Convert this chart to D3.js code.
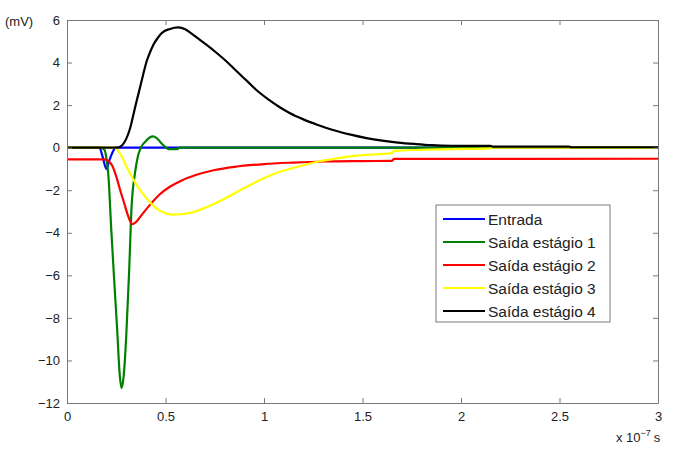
<!DOCTYPE html>
<html>
<head>
<meta charset="utf-8">
<script src="https://cdn.jsdelivr.net/npm/d3@7"></script>
<style>
  html, body { margin: 0; padding: 0; background: #fff; }
  svg { display: block; font-family: "Liberation Sans", Arial, Helvetica, sans-serif; }
</style>
</head>
<body>
<svg id="chart" width="674" height="450"></svg>
<script>
// Time in units of 1e-7 s, voltage in mV
const entradaT = [0, 0.165, 0.18, 0.2, 0.215, 0.235, 0.245, 3];
const entradaV = [0, 0, -0.4, -1.0, -0.6, -0.15, 0, 0];

const est1T = [0, 0.17, 0.19, 0.2, 0.21, 0.225, 0.24, 0.255, 0.267, 0.277, 0.287, 0.3, 0.315, 0.328, 0.345, 0.36, 0.375, 0.4, 0.42, 0.437, 0.455, 0.48, 0.5, 0.515, 0.56, 0.57, 3];
const est1V = [0, 0, -0.1, -0.5, -1.3, -3.9, -6.3, -8.6, -10.6, -11.3, -10.8, -9.0, -5.9, -2.75, -1.2, -0.4, 0, 0.3, 0.48, 0.53, 0.45, 0.2, 0.03, -0.07, -0.07, 0, 0];

const est2T = [0, 0.19, 0.21, 0.23, 0.25, 0.27, 0.29, 0.31, 0.33, 0.35, 0.38, 0.42, 0.47, 0.52, 0.58, 0.65, 0.75, 0.85, 1.0, 1.15, 1.3, 1.5, 1.65, 1.66, 3];
const est2V = [-0.55, -0.55, -0.62, -0.85, -1.35, -2.0, -2.6, -3.2, -3.6, -3.5, -3.15, -2.7, -2.2, -1.85, -1.55, -1.3, -1.05, -0.9, -0.77, -0.7, -0.65, -0.63, -0.62, -0.53, -0.52];

const est3T = [0, 0.24, 0.26, 0.28, 0.3, 0.325, 0.35, 0.38, 0.42, 0.46, 0.5, 0.54, 0.58, 0.64, 0.72, 0.81, 0.9, 0.98, 1.06, 1.15, 1.27, 1.36, 1.44, 1.55, 1.65, 1.66, 1.8, 2.0, 2.15, 2.16, 3];
const est3V = [0, 0, -0.15, -0.45, -0.85, -1.3, -1.7, -2.1, -2.55, -2.9, -3.08, -3.15, -3.13, -3.03, -2.75, -2.35, -1.9, -1.52, -1.2, -0.95, -0.66, -0.52, -0.41, -0.32, -0.26, -0.15, -0.1, -0.06, -0.03, 0, 0];

const est4T = [0, 0.25, 0.27, 0.3, 0.32, 0.337, 0.355, 0.37, 0.387, 0.404, 0.42, 0.438, 0.46, 0.48, 0.523, 0.565, 0.6, 0.624, 0.66, 0.709, 0.76, 0.81, 0.86, 0.912, 0.96, 1.02, 1.08, 1.13, 1.2, 1.27, 1.35, 1.44, 1.52, 1.6, 1.68, 1.77, 1.85, 1.95, 2.15, 2.16, 2.55, 2.56, 3];
const est4V = [0, 0, 0.05, 0.4, 0.9, 1.55, 2.25, 2.8, 3.45, 4.05, 4.45, 4.83, 5.15, 5.38, 5.58, 5.65, 5.56, 5.42, 5.17, 4.83, 4.45, 4.05, 3.6, 3.15, 2.72, 2.28, 1.9, 1.63, 1.33, 1.08, 0.83, 0.61, 0.45, 0.33, 0.24, 0.17, 0.12, 0.09, 0.08, 0.05, 0.05, 0.02, 0.02];

const seriesNames = ["Entrada", "Saída estágio 1", "Saída estágio 2", "Saída estágio 3", "Saída estágio 4"];
const seriesColors = ["#0000ff", "#008000", "#ff0000", "#ffff00", "#000000"];
const seriesT = [entradaT, est1T, est2T, est3T, est4T];
const seriesV = [entradaV, est1V, est2V, est3V, est4V];

const xTicks = [0, 0.5, 1, 1.5, 2, 2.5, 3];
const xTickLabels = ["0", "0.5", "1", "1.5", "2", "2.5", "3"];
const yTicks = [6, 4, 2, 0, -2, -4, -6, -8, -10, -12];
const yTickLabels = ["6", "4", "2", "0", "\u22122", "\u22124", "\u22126", "\u22128", "\u221210", "\u221212"];

const svg = d3.select("#chart");
const L = 67, R = 658, T = 20, B = 403;

const x = d3.scaleLinear().domain([0, 3]).range([L, R]);
const y = d3.scaleLinear().domain([-12, 6]).range([B, T]);

const axisColor = "#7a7a7a";
const textColor = "#222";

// Series lines
const line = d3.line().x(d => x(d[0])).y(d => y(d[1])).curve(d3.curveMonotoneX);
seriesT.forEach((ts, i) => {
  const pts = ts.map((t, j) => [t, seriesV[i][j]]);
  svg.append("path")
    .attr("d", line(pts))
    .attr("fill", "none")
    .attr("stroke", seriesColors[i])
    .attr("stroke-width", 2.2)
    .attr("stroke-linejoin", "round");
});

// Axes with inward ticks on all four sides
const tickLen = 5;
const gB = svg.append("g").attr("transform", `translate(0,${B})`)
  .call(d3.axisBottom(x).tickValues(xTicks).tickFormat((d, i) => xTickLabels[i]).tickSizeInner(-tickLen).tickSizeOuter(0).tickPadding(9));
const gT = svg.append("g").attr("transform", `translate(0,${T})`)
  .call(d3.axisTop(x).tickValues(xTicks).tickFormat("").tickSizeInner(-tickLen).tickSizeOuter(0));
const gL = svg.append("g").attr("transform", `translate(${L},0)`)
  .call(d3.axisLeft(y).tickValues(yTicks).tickFormat((d, i) => yTickLabels[i]).tickSizeInner(-tickLen).tickSizeOuter(0).tickPadding(7));
const gR = svg.append("g").attr("transform", `translate(${R},0)`)
  .call(d3.axisRight(y).tickValues(yTicks).tickFormat("").tickSizeInner(-tickLen).tickSizeOuter(0));

[gB, gT, gL, gR].forEach(g => {
  g.select(".domain").attr("stroke", axisColor).attr("stroke-width", 1);
  g.selectAll(".tick line").attr("stroke", axisColor);
  g.selectAll(".tick text").attr("fill", textColor).style("font-size", "13px").style("font-family", "'Liberation Sans', Arial, sans-serif");
});

// Unit labels
svg.append("text").attr("x", 5).attr("y", 26)
  .attr("fill", textColor).style("font-size", "13px").text("(mV)");

const xl = svg.append("text").attr("x", 616).attr("y", 442)
  .attr("fill", textColor).style("font-size", "13px");
xl.append("tspan").text("x 10");
xl.append("tspan").attr("dy", -6).style("font-size", "9px").text("\u22127");
xl.append("tspan").attr("dy", 6).attr("dx", 3).text("s");

// Legend
const lg = svg.append("g").attr("transform", "translate(436,205)");
lg.append("rect").attr("x", 0).attr("y", 0).attr("width", 174).attr("height", 117)
  .attr("fill", "#fff").attr("stroke", axisColor);
seriesNames.forEach((name, i) => {
  const cy = 14 + i * 23;
  lg.append("line").attr("x1", 7).attr("x2", 49).attr("y1", cy).attr("y2", cy)
    .attr("stroke", seriesColors[i]).attr("stroke-width", 2.2);
  lg.append("text").attr("x", 52).attr("y", cy + 5.5)
    .attr("fill", textColor).style("font-size", "15.5px").text(name);
});
</script>
</body>
</html>
